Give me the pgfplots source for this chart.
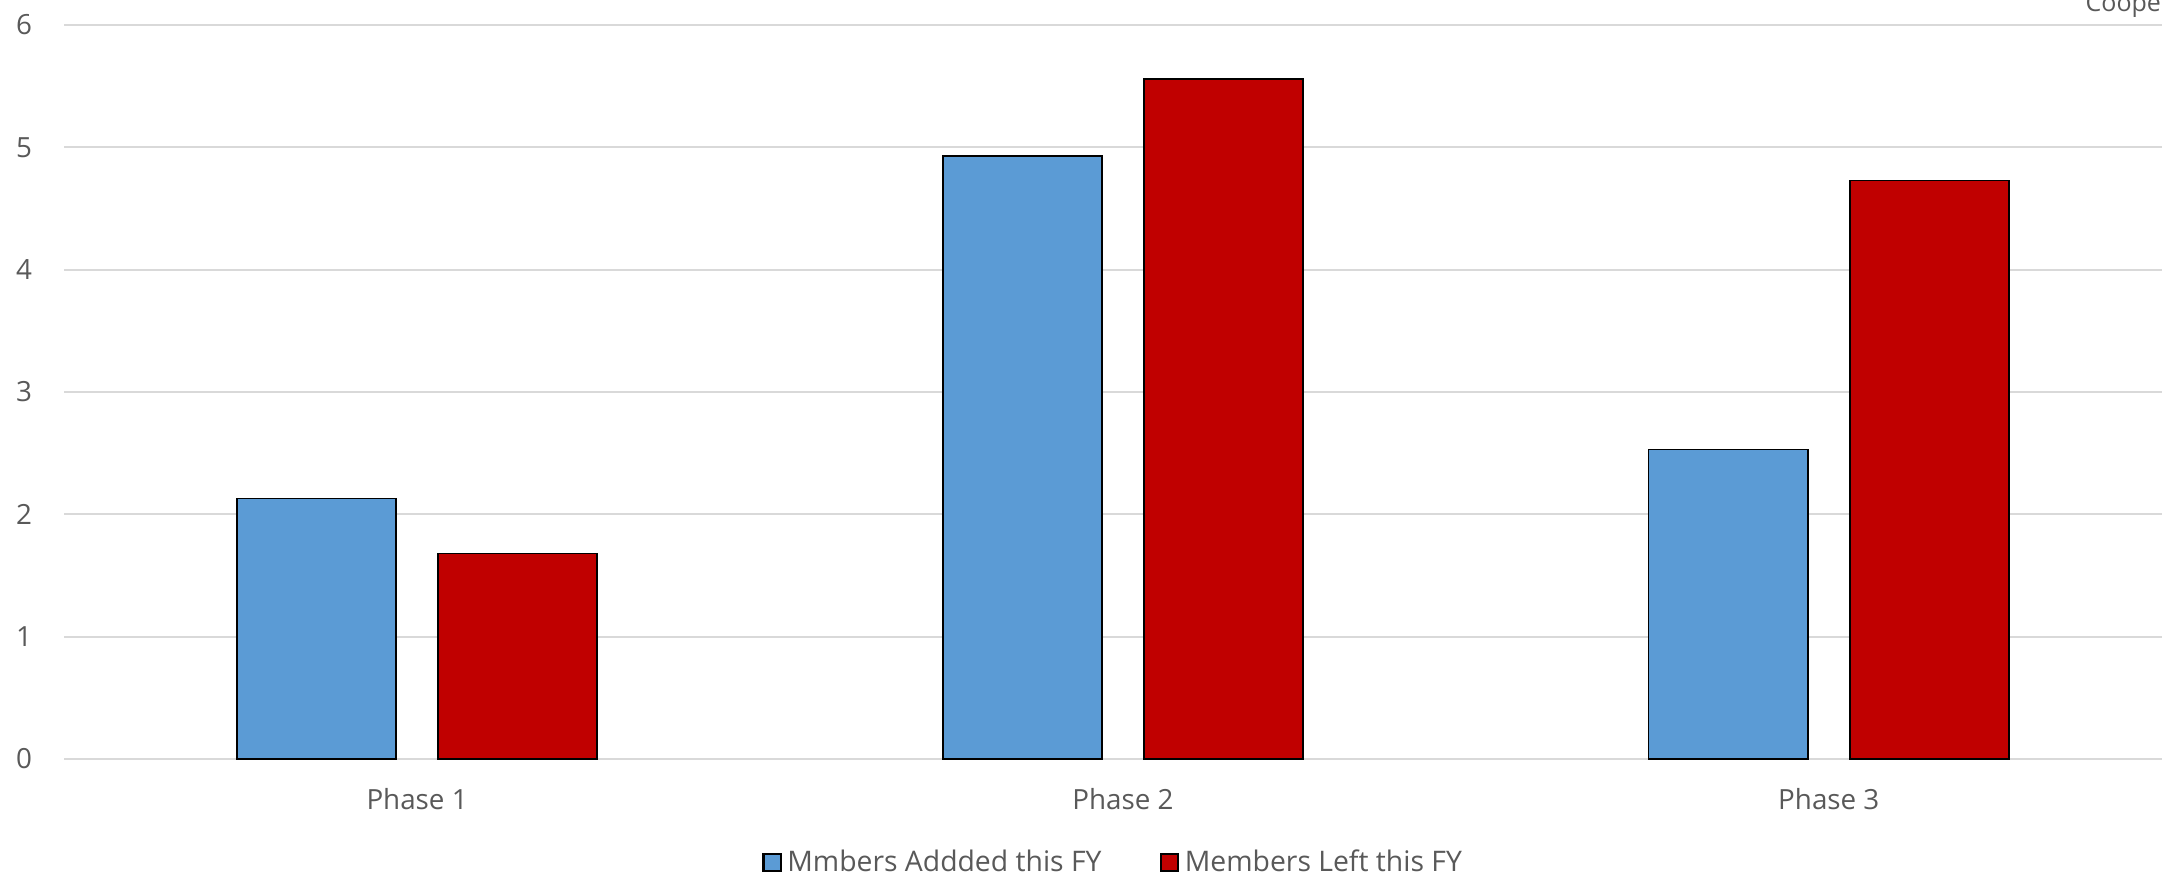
\documentclass[border=0pt]{standalone}
\usepackage{pgfplots}
\pgfplotsset{compat=1.18}
\usepackage{fontspec}
\setmainfont{Open Sans}
\definecolor{cblue}{HTML}{5B9BD5}
\definecolor{cred}{HTML}{C00000}
\definecolor{cgrid}{HTML}{D9D9D9}
\definecolor{ctext}{HTML}{595959}
\begin{document}
\begin{tikzpicture}
\begin{axis}[
  scale only axis,
  width=762.3pt, height=264.24pt,
  xmin=-0.5, xmax=2.5,
  ymin=0, ymax=6,
  ytick={0,1,2,3,4,5,6},
  xtick={0,1,2},
  xticklabels={Phase 1,Phase 2,Phase 3},
  ymajorgrids,
  grid style={cgrid, line width=0.75pt},
  axis line style={draw=none},
  major tick length=0pt,
  /pgf/number format/assume math mode=true,
  tick label style={font=\fontsize{10}{12}\selectfont, text=ctext},
  yticklabel style={xshift=-8pt},
  xticklabel style={yshift=-7pt},
  ybar,
  bar width=0.2255,
  legend columns=2,
  legend style={at={(0.4962,-0.141)}, anchor=center, draw=none, fill=none,
    font=\fontsize{10.2}{12}\selectfont, text=ctext,
    /tikz/every even column/.append style={column sep=19pt}},
  legend image code/.code={\draw[#1, line width=0.8pt] (1.2pt,-3.1pt) rectangle (7.4pt,3.1pt);},
]
\addplot[fill=cblue, draw=black, line width=0.6pt, bar shift=-0.1425] coordinates {(0,2.13) (1,4.93) (2,2.53)};
\addplot[fill=cred, draw=black, line width=0.6pt, bar shift=0.1425] coordinates {(0,1.68) (1,5.56) (2,4.73)};
\legend{Mmbers Addded this FY, Members Left this FY}
\end{axis}
\node[anchor=base west, font=\fontsize{9}{11}\selectfont, text=ctext, inner sep=0pt] at (727.5pt,269pt) {Cooper};
\pgfresetboundingbox
\useasboundingbox (-23.1pt,-42.12pt) rectangle (755.2pt,273.24pt);
\end{tikzpicture}
\end{document}
